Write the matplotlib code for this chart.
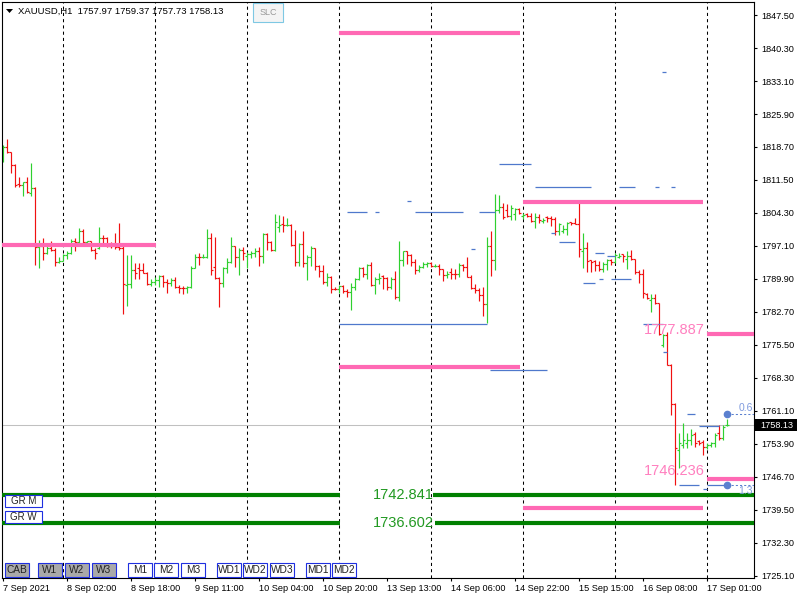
import numpy as np
import matplotlib
matplotlib.use('Agg')
import matplotlib.pyplot as plt
from matplotlib.patches import Rectangle, Polygon

plt.rcParams['font.family'] = ['Liberation Sans', 'DejaVu Sans']

# XAUUSD H1, 7 Sep 09:00 .. 17 Sep 06:00 (bar index 0..181)
opens = [
    1816.0, 1818.8, 1817.5, 1814.8, 1810.6, 1810.4, 1811.0, 1808.7, 1809.7, 1796.8,
    1797.0, 1795.6, 1796.6, 1796.2, 1793.5, 1793.9, 1795.1, 1795.5, 1798.2, 1798.0,
    1800.4, 1797.9, 1798.1, 1796.2, 1796.6, 1798.9, 1798.8, 1797.1, 1797.4, 1796.9,
    1796.6, 1788.5, 1788.8, 1791.9, 1792.4, 1791.9, 1791.3, 1788.7, 1789.3, 1789.7,
    1790.6, 1789.3, 1789.0, 1789.7, 1788.2, 1788.0, 1787.9, 1788.2, 1792.4, 1794.8,
    1794.6, 1794.8, 1798.8, 1792.5, 1790.2, 1789.0, 1792.4, 1793.6, 1797.0, 1794.6,
    1796.2, 1795.0, 1795.4, 1795.5, 1796.1, 1795.0, 1799.7, 1798.0, 1796.2, 1801.3,
    1802.0, 1801.6, 1801.7, 1797.3, 1793.5, 1797.5, 1793.3, 1794.6, 1796.6, 1792.7,
    1791.7, 1789.3, 1790.4, 1787.8, 1787.7, 1788.4, 1787.3, 1787.0, 1788.2, 1789.9,
    1792.2, 1790.9, 1793.0, 1788.6, 1789.8, 1790.6, 1790.2, 1788.1, 1789.9, 1785.9,
    1794.1, 1795.9, 1795.1, 1793.7, 1791.9, 1792.5, 1793.2, 1793.3, 1792.7, 1792.8,
    1792.0, 1790.8, 1791.5, 1791.0, 1790.9, 1793.0, 1792.5, 1790.4, 1788.0, 1787.5,
    1786.4, 1784.5, 1797.1, 1794.1, 1805.0, 1805.7, 1805.0, 1803.6, 1804.0, 1805.1,
    1803.6, 1804.0, 1803.6, 1802.6, 1803.5, 1802.5, 1803.4, 1803.1, 1802.9, 1800.4,
    1800.4, 1800.7, 1802.3, 1802.2, 1802.0, 1796.0, 1796.6, 1794.0, 1793.9, 1792.9,
    1792.0, 1793.2, 1794.1, 1793.7, 1794.6, 1795.3, 1794.2, 1795.0, 1794.2, 1791.5,
    1790.9, 1786.6, 1785.3, 1785.8, 1784.6, 1775.5, 1777.7, 1771.2, 1762.6, 1752.5,
    1753.7, 1754.2, 1754.8, 1756.0, 1754.6, 1754.4, 1753.3, 1753.7, 1754.0, 1756.2,
    1755.2, 1757.97,
]
highs = [
    1819.1, 1820.4, 1817.6, 1814.9, 1812.2, 1811.1, 1812.2, 1815.1, 1810.0, 1798.4,
    1798.9, 1797.3, 1798.2, 1796.6, 1794.6, 1795.4, 1795.9, 1798.6, 1798.8, 1801.0,
    1800.7, 1798.2, 1798.2, 1796.6, 1801.2, 1799.5, 1799.1, 1797.9, 1799.9, 1802.2,
    1797.0, 1795.1, 1795.1, 1793.3, 1793.4, 1793.3, 1791.5, 1789.8, 1790.4, 1790.8,
    1790.7, 1790.0, 1790.2, 1790.4, 1788.6, 1788.4, 1788.4, 1792.7, 1795.4, 1795.6,
    1795.4, 1800.8, 1799.9, 1799.0, 1790.4, 1792.6, 1794.4, 1799.0, 1797.1, 1796.6,
    1796.8, 1795.7, 1796.1, 1796.6, 1796.8, 1799.9, 1800.0, 1798.1, 1804.0, 1803.9,
    1803.6, 1803.1, 1801.8, 1800.6, 1797.8, 1800.4, 1795.1, 1797.0, 1796.7, 1793.0,
    1793.0, 1791.1, 1790.6, 1788.2, 1788.6, 1788.5, 1787.7, 1789.0, 1790.2, 1792.5,
    1792.5, 1793.2, 1793.7, 1790.3, 1791.1, 1790.8, 1790.4, 1790.3, 1791.7, 1798.2,
    1796.1, 1796.0, 1795.4, 1794.2, 1793.0, 1793.7, 1793.7, 1793.7, 1793.1, 1793.2,
    1792.1, 1791.7, 1792.2, 1792.0, 1793.3, 1793.2, 1794.6, 1790.8, 1788.9, 1787.9,
    1788.1, 1799.1, 1800.4, 1808.4, 1808.2, 1806.4, 1806.3, 1806.0, 1805.3, 1805.3,
    1804.2, 1804.4, 1804.2, 1804.2, 1804.0, 1803.3, 1803.6, 1803.6, 1803.5, 1802.2,
    1801.7, 1802.4, 1802.4, 1803.1, 1806.4, 1800.0, 1798.0, 1794.1, 1794.0, 1793.8,
    1793.5, 1794.3, 1794.2, 1795.5, 1795.6, 1795.4, 1795.9, 1796.2, 1794.3, 1791.9,
    1792.0, 1786.9, 1786.6, 1786.6, 1784.7, 1778.0, 1778.4, 1771.4, 1762.8, 1756.2,
    1758.4, 1756.2, 1757.1, 1756.6, 1754.8, 1754.8, 1754.1, 1754.4, 1756.2, 1758.0,
    1758.0, 1759.37,
]
lows = [
    1815.4, 1817.3, 1813.0, 1809.9, 1810.0, 1808.1, 1808.7, 1808.1, 1793.0, 1792.2,
    1794.1, 1795.4, 1795.9, 1792.8, 1793.3, 1793.8, 1794.3, 1795.3, 1795.9, 1797.7,
    1797.3, 1797.7, 1796.1, 1794.2, 1796.5, 1797.7, 1796.8, 1796.6, 1796.4, 1796.2,
    1782.2, 1783.9, 1787.9, 1789.9, 1790.0, 1791.1, 1788.6, 1788.4, 1788.6, 1788.2,
    1788.2, 1786.9, 1788.4, 1787.9, 1786.8, 1786.6, 1786.8, 1788.0, 1792.2, 1793.0,
    1794.4, 1794.4, 1790.8, 1790.0, 1783.7, 1788.1, 1791.1, 1793.3, 1792.6, 1790.8,
    1794.1, 1792.4, 1794.4, 1794.6, 1792.7, 1793.3, 1796.2, 1796.1, 1796.0, 1800.1,
    1800.2, 1801.4, 1797.2, 1792.7, 1792.7, 1792.5, 1789.7, 1792.7, 1791.9, 1790.4,
    1788.8, 1788.4, 1786.9, 1787.5, 1786.9, 1786.9, 1785.9, 1783.1, 1787.5, 1789.7,
    1790.4, 1789.8, 1788.4, 1786.6, 1788.8, 1787.7, 1787.5, 1787.7, 1785.5, 1785.2,
    1792.7, 1793.2, 1792.7, 1791.0, 1791.5, 1792.2, 1792.5, 1792.5, 1792.5, 1790.8,
    1789.5, 1790.1, 1789.8, 1789.8, 1790.4, 1791.7, 1790.3, 1787.7, 1786.8, 1785.2,
    1781.8, 1780.4, 1790.6, 1791.9, 1804.2, 1802.9, 1803.4, 1802.8, 1802.8, 1804.0,
    1802.9, 1803.4, 1802.4, 1801.1, 1802.2, 1802.2, 1802.4, 1801.5, 1799.5, 1799.6,
    1799.9, 1799.6, 1801.7, 1801.9, 1794.8, 1792.2, 1791.5, 1791.5, 1791.7, 1791.7,
    1791.5, 1791.9, 1793.0, 1793.3, 1794.4, 1793.7, 1792.0, 1794.1, 1791.0, 1789.1,
    1785.7, 1785.5, 1782.6, 1784.5, 1777.7, 1775.1, 1771.1, 1760.2, 1745.0, 1748.6,
    1753.0, 1753.0, 1753.7, 1753.3, 1753.7, 1751.5, 1752.8, 1753.3, 1753.3, 1754.8,
    1754.8, 1757.73,
]
closes = [
    1818.8, 1817.5, 1814.8, 1810.4, 1810.3, 1811.0, 1808.8, 1809.7, 1796.8, 1797.0,
    1795.6, 1796.6, 1796.2, 1793.5, 1793.9, 1795.1, 1795.5, 1798.2, 1798.0, 1800.4,
    1797.9, 1798.1, 1796.2, 1795.5, 1798.9, 1798.8, 1797.1, 1797.0, 1796.9, 1796.6,
    1788.7, 1788.8, 1791.9, 1791.1, 1791.9, 1791.3, 1788.7, 1789.3, 1789.7, 1790.6,
    1789.3, 1789.0, 1789.7, 1788.2, 1788.0, 1787.9, 1788.2, 1792.4, 1794.8, 1794.6,
    1794.8, 1798.8, 1791.9, 1790.2, 1789.0, 1792.4, 1793.6, 1797.0, 1794.6, 1796.2,
    1795.5, 1795.4, 1795.5, 1796.1, 1795.0, 1799.7, 1798.0, 1796.2, 1802.3, 1801.7,
    1801.6, 1801.7, 1797.3, 1793.5, 1797.5, 1793.3, 1794.6, 1796.6, 1792.7, 1791.7,
    1789.3, 1790.4, 1787.8, 1787.7, 1788.4, 1787.3, 1787.0, 1788.2, 1789.9, 1792.2,
    1790.9, 1793.0, 1788.6, 1789.8, 1790.1, 1790.2, 1788.1, 1789.9, 1785.9, 1794.1,
    1795.9, 1795.1, 1793.7, 1791.9, 1792.5, 1793.2, 1793.3, 1792.7, 1792.8, 1792.0,
    1790.8, 1791.0, 1791.0, 1790.9, 1793.0, 1792.5, 1790.4, 1788.0, 1787.5, 1786.4,
    1784.5, 1797.1, 1794.1, 1805.0, 1805.7, 1803.5, 1803.6, 1805.3, 1805.1, 1804.2,
    1803.9, 1803.6, 1802.6, 1803.5, 1802.8, 1802.8, 1803.1, 1802.9, 1800.4, 1801.8,
    1800.7, 1802.1, 1802.2, 1802.0, 1796.4, 1796.6, 1793.9, 1793.7, 1792.9, 1792.0,
    1793.2, 1794.1, 1793.7, 1795.1, 1794.9, 1794.9, 1795.0, 1794.2, 1791.5, 1790.9,
    1786.8, 1785.7, 1785.8, 1784.6, 1777.9, 1777.7, 1771.2, 1762.6, 1753.0, 1754.0,
    1754.8, 1754.8, 1755.9, 1754.1, 1754.0, 1753.3, 1753.7, 1754.0, 1755.9, 1755.2,
    1757.7, 1758.13,
]

x_tick_pos = [0, 16, 32, 48, 64, 80, 96, 112, 128, 144, 160, 176]
x_tick_labels = ['7 Sep 2021', '8 Sep 02:00', '8 Sep 18:00', '9 Sep 11:00',
                 '10 Sep 04:00', '10 Sep 20:00', '13 Sep 13:00', '14 Sep 06:00',
                 '14 Sep 22:00', '15 Sep 15:00', '16 Sep 08:00', '17 Sep 01:00']
y_ticks = [1725.10, 1732.30, 1739.50, 1746.70, 1753.90, 1761.10, 1768.30,
           1775.50, 1782.70, 1789.90, 1797.10, 1804.30, 1811.50, 1818.70,
           1825.90, 1833.10, 1840.30, 1847.50]
day_starts = [15, 38, 61, 84, 107, 130, 153, 176]

# pink levels (price, from bar, to bar)
pink_lvl = [1797.4, 1843.5, 1770.7, 1806.6, 1739.9, 1777.887, 1746.236]
pink_from = [-0.25, 84, 84, 130, 130, 176, 176]
pink_to = [38.2, 129.25, 129.25, 175, 175, 187.75, 187.75]

# green levels
green_lvl = [1742.841, 1742.841, 1736.602, 1736.602]
green_from = [-0.25, 107.5, -0.25, 108]
green_to = [84.25, 187.75, 84.25, 187.75]

# thin blue segments
blue_lvl = [1804.45, 1804.45, 1806.9, 1804.45, 1804.45, 1796.4, 1780.0, 1814.9,
            1809.9, 1809.9, 1809.9, 1809.9, 1799.9, 1797.9, 1795.5, 1795.0,
            1790.0, 1790.0, 1789.0, 1770.0, 1835.0, 1780.0, 1773.9, 1760.4,
            1757.9, 1745.0, 1744.0, 1745.0]
blue_from = [86, 93, 101, 103, 119, 117, 84, 124, 133, 154, 163, 167, 137, 139,
             148, 151, 149, 152, 145, 121.75, 164.75, 160, 165, 171, 174, 169,
             175, 176]
blue_to = [91, 94, 102, 115, 123, 118, 121, 132, 147, 158, 164, 168, 138, 143,
           150.25, 153, 150, 157, 148, 136, 165.75, 165, 166, 173, 179, 174,
           176, 181]

last_price = 1758.13
W, H = 800, 600
GREEN_BAR = '#2fd02f'
RED_BAR = '#f01010'
PINK = '#ff69b4'
DKGREEN = '#008000'
BLUE = '#4f78cc'

fig = plt.figure(figsize=(8, 6), dpi=100)
fig.patch.set_facecolor('white')
ax = fig.add_axes([2 / W, 22 / H, 752 / W, 576 / H])
ax.set_xlim(-0.25, 187.75)
ax.set_ylim(1724.65, 1850.34)

# day separators and last price line
for d in day_starts:
    ax.axvline(d, color='black', lw=0.75, ls=(0, (3, 3)), zorder=1)
ax.axhline(last_price, color='#c0c0c0', lw=0.75, zorder=1)

# OHLC bars
o = np.array(opens)
h = np.array(highs)
l = np.array(lows)
c = np.array(closes)
idx = np.arange(len(o))
cols = np.where(c >= o, GREEN_BAR, RED_BAR)
for arr in (
    ax.vlines(idx, l, h, colors=cols, lw=0.85, zorder=2),
    ax.hlines(o, idx - 0.4, idx, colors=cols, lw=0.85, zorder=2),
    ax.hlines(c, idx, idx + 0.4, colors=cols, lw=0.85, zorder=2),
):
    arr.set_snap(True)

# levels
ax.hlines(blue_lvl, blue_from, blue_to, colors=BLUE, lw=0.9, zorder=3)
ax.hlines(pink_lvl, pink_from, pink_to, colors=PINK, lw=3, zorder=4)
ax.hlines(green_lvl, green_from, green_to, colors=DKGREEN, lw=3, zorder=4)

# labels on levels
for v in [1742.841, 1736.602]:
    ax.text(100, v, f'{v:.3f}', color='#229922', fontsize=10.5,
            ha='center', va='center', zorder=5)
for v, off in [(1777.887, 4), (1746.236, 8)]:
    ax.annotate(f'{v:.3f}', xy=(175.5, v), xytext=(0, off),
                textcoords='offset pixels', color='#ff7fbf', fontsize=10.5,
                ha='right', va='center', zorder=5)

# stop/target markers on the last bar
ax.plot([181, 181], [1760.4, 1745.0], 'o', ms=4.5, color='#5b80cf', zorder=5)
ax.hlines([1760.4, 1745.0], 181, 187.75, colors='#5b80cf', lw=0.75,
          linestyles=(0, (2, 2)), zorder=4)
ax.annotate('0.6', xy=(187.75, 1760.4), xytext=(-1, 6), textcoords='offset pixels',
            color='#7f9ade', fontsize=7.5, ha='right', va='center', zorder=5)
ax.annotate('1.3', xy=(187.75, 1745.0), xytext=(-1, -6), textcoords='offset pixels',
            color='#7f9ade', fontsize=7.5, ha='right', va='center', zorder=5)

# axes styling
ax.yaxis.tick_right()
ax.set_yticks(y_ticks)
ax.set_yticklabels([f'{v:.2f}' for v in y_ticks])
ax.set_xticks(x_tick_pos)
ax.set_xticklabels(x_tick_labels)
for lbl in ax.get_xticklabels():
    lbl.set_ha('left')
ax.tick_params(axis='y', direction='out', length=2.5, width=0.8, pad=2.5, labelsize=6.6)
ax.tick_params(axis='x', direction='out', length=2.5, width=0.8, pad=2, labelsize=6.6)
for s in ax.spines.values():
    s.set_color('black')
    s.set_linewidth(0.8)


def fig_box(x0, y0, w, hh, label, face, edge, tcolor, size):
    fig.patches.append(Rectangle((x0 / W, 1 - (y0 + hh) / H), w / W, hh / H,
                                 transform=fig.transFigure, facecolor=face,
                                 edgecolor=edge, lw=0.8, zorder=5, figure=fig))
    fig.text((x0 + w / 2) / W, 1 - (y0 + hh / 2) / H, label, color=tcolor,
             fontsize=size, ha='center', va='center', zorder=6)


# header
fig.patches.append(Polygon([(6 / W, 1 - 9 / H), (13 / W, 1 - 9 / H), (9.5 / W, 1 - 13 / H)],
                           closed=True, transform=fig.transFigure, facecolor='black',
                           edgecolor='none', zorder=5, figure=fig))
fig.text(18 / W, 1 - 11 / H, 'XAUUSD,H1  1757.97 1759.37 1757.73 1758.13',
         fontsize=6.8, ha='left', va='center', zorder=6)
fig_box(253, 3, 30, 19, 'SLC', '#f4f4f4', '#7ec8e3', '#999999', 6.5)

# chart buttons
fig_box(5, 495, 37, 12, 'GR M', 'white', '#1f2fe0', '#222222', 7)
fig_box(5, 511, 37, 12, 'GR W', 'white', '#1f2fe0', '#222222', 7)
btn_labels = ['CAB', 'W1', 'W2', 'W3', 'M1', 'M2', 'M3', 'WD1', 'WD2', 'WD3', 'MD1', 'MD2']
btn_x = [5, 38, 65, 92, 128, 154, 181, 217, 243, 270, 306, 332]
for k, (lab, bx) in enumerate(zip(btn_labels, btn_x)):
    face = '#a9a9a9' if k < 4 else 'white'
    fig_box(bx, 563, 24, 14, lab, face, '#1f2fe0', '#222222', 7.3)

# last price tag on the price scale
fig.patches.append(Rectangle((755 / W, 1 - 431 / H), 42 / W, 12 / H,
                             transform=fig.transFigure, facecolor='black',
                             edgecolor='none', zorder=5, figure=fig))
fig.text(760 / W, 1 - 425 / H, f'{last_price:.2f}', color='white', fontsize=6.6,
         ha='left', va='center', zorder=6)

fig.savefig('out.png', dpi=100, facecolor='white')
